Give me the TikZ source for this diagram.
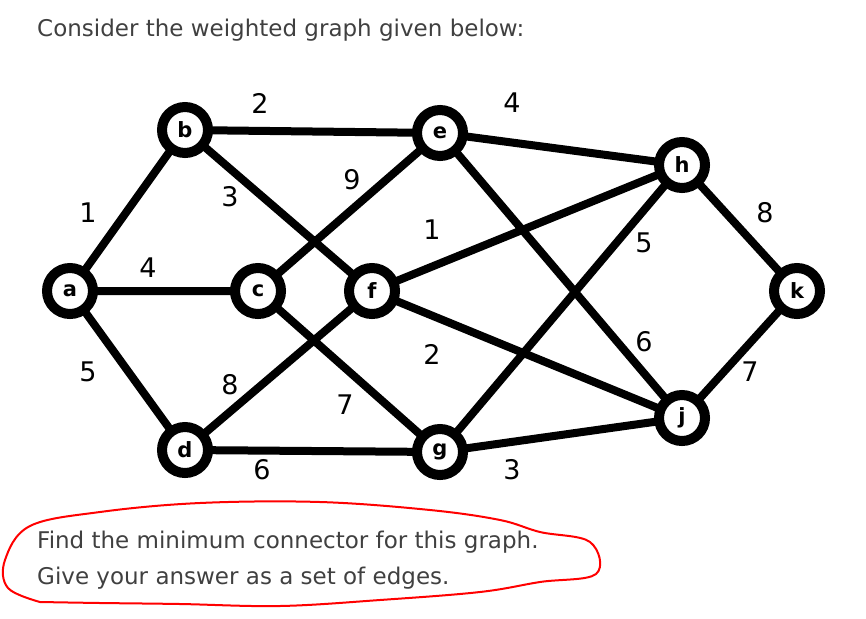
\documentclass[tikz,border=0pt]{standalone}
\usepackage{fontspec}
\setmainfont{DejaVu Sans}
\begin{document}
\begin{tikzpicture}[x=1pt,y=-1pt,
  vtx/.style={circle,draw=black,line width=10pt,fill=white,minimum size=46pt,inner sep=0pt,font=\fontsize{21}{21}\selectfont\bfseries},
  edge/.style={line width=8pt},
  wt/.style={font=\fontsize{27}{27}\selectfont},
  txt/.style={anchor=west,text=black!75,font=\fontsize{23}{26}\selectfont,inner sep=0pt}]
\useasboundingbox (0,0) rectangle (866,618);
\node[txt] (t1) at (37,30) {Consider the weighted graph given below:};
\coordinate (A) at (70,291); \coordinate (B) at (185,130); \coordinate (C) at (258,291);
\coordinate (D) at (185,450); \coordinate (E) at (440,133); \coordinate (F) at (372,291);
\coordinate (G) at (440,452); \coordinate (H) at (682,165); \coordinate (J) at (682,418);
\coordinate (K) at (797,291);
\draw[edge] (A)--(B) (A)--(C) (A)--(D) (B)--(E) (B)--(F) (C)--(E) (C)--(G)
 (D)--(F) (D)--(G) (E)--(H) (E)--(J) (F)--(H) (F)--(J) (G)--(H) (G)--(J)
 (H)--(K) (J)--(K);
\foreach \n/\p in {a/A,b/B,c/C,d/D,e/E,f/F,g/G,h/H,j/J,k/K}
  \node[vtx] (\n) at (\p) {\n};
\node[wt] (w1) at (260,103) {2};
\node[wt] (w2) at (512,103) {4};
\node[wt] (w3) at (352,180) {9};
\node[wt] (w4) at (230,197) {3};
\node[wt] (w5) at (88,213) {1};
\node[wt] (w6) at (148,268) {4};
\node[wt] (w7) at (432,230) {1};
\node[wt] (w8) at (644,243) {5};
\node[wt] (w9) at (765,213) {8};
\node[wt] (w10) at (88,372) {5};
\node[wt] (w11) at (230,385) {8};
\node[wt] (w12) at (345,405) {7};
\node[wt] (w13) at (432,354) {2};
\node[wt] (w14) at (644,342) {6};
\node[wt] (w15) at (750,372) {7};
\node[wt] (w16) at (262,470) {6};
\node[wt] (w17) at (512,470) {3};
\node[txt] (t2) at (37,542) {Find the minimum connector for this graph.};
\node[txt] (t3) at (37,578) {Give your answer as a set of edges.};
\draw[red,line width=2pt,line join=round] plot[smooth,tension=0.6] coordinates {
 (40,602) (8,588) (5,560) (30,526) (100,512) (200,503) (320,502) (430,510) (500,520)
 (540,532) (590,542) (596,574) (540,582) (480,592) (380,600) (280,606) (180,604) (100,603) (40,602)};
\end{tikzpicture}
\end{document}
